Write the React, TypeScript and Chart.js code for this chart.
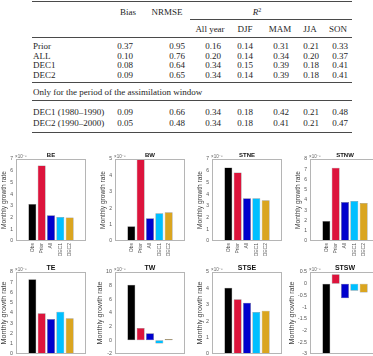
import React, { useEffect, useRef } from 'react';
import { Chart, registerables } from 'chart.js';

Chart.register(...registerables);

// ---- Table data ----
const runNames = ['Prior', 'ALL', 'DEC1', 'DEC2'];
const biasValues = [0.37, 0.1, 0.08, 0.09];
const nrmseValues = [0.95, 0.76, 0.64, 0.65];
const r2AllYear = [0.16, 0.2, 0.34, 0.34];
const r2DJF = [0.14, 0.14, 0.15, 0.14];
const r2MAM = [0.31, 0.34, 0.39, 0.39];
const r2JJA = [0.21, 0.2, 0.18, 0.18];
const r2SON = [0.33, 0.37, 0.41, 0.41];

const windowRunNames = ['DEC1 (1980–1990)', 'DEC2 (1990–2000)'];
const windowBias = [0.09, 0.05];
const windowNrmse = [0.66, 0.48];
const windowAllYear = [0.34, 0.34];
const windowDJF = [0.18, 0.18];
const windowMAM = [0.42, 0.41];
const windowJJA = [0.21, 0.21];
const windowSON = [0.48, 0.47];

const seasonHeaders = ['All year', 'DJF', 'MAM', 'JJA', 'SON'];

// ---- Bar chart data (monthly growth rate, x10^-8) ----
const categories = ['Obs', 'Prior', 'All', 'DEC1', 'DEC2'];
const regionNames = ['BE', 'BW', 'STNE', 'STNW', 'TE', 'TW', 'STSE', 'STSW'];
const beValues = [3.15, 6.45, 2.2, 2.05, 2.0];
const bwValues = [0.9, 5.0, 1.38, 1.69, 1.75];
const stneValues = [6.27, 5.84, 3.64, 3.64, 3.47];
const stnwValues = [1.95, 7.15, 3.8, 3.9, 3.7];
const teValues = [7.3, 3.97, 3.41, 4.12, 3.48];
const twValues = [8.15, 1.8, 1.05, -0.45, 0.2];
const stseValues = [4.04, 3.34, 3.13, 2.56, 2.64];
const stswValues = [-3.0, 0.4, -0.62, -0.3, -0.38];
const axisMin = [0, 0, 0, 0, 0, -2, 0, -3];
const axisMax = [7, 5, 7, 8, 8, 10, 5, 0.5];
const axisStep = [1, 1, 1, 1, 1, 2, 1, 0.5];

const allValues = [beValues, bwValues, stneValues, stnwValues, teValues, twValues, stseValues, stswValues];

const barColors = ['#000000', '#DC143C', '#0000CD', '#00BFFF', '#DAA520'];

// ---- Layout ----
const frameLefts = [16, 115, 212, 310];
const rowTops = [159, 272];
const frameW = 70;
const frameH = 82;
const padL = 26; // room left of the axes box (y ticks + label)
const padT = 18;
const padR = 4;
const padB = 26;
const yAxisW = 20;
const xAxisH = 22;

const sansFamily = '"Liberation Sans", Arial, sans-serif';

type PanelProps = {
  title: string;
  values: number[];
  min: number;
  max: number;
  step: number;
  left: number;
  top: number;
  big: boolean;
};

function GrowthPanel({ title, values, min, max, step, left, top, big }: PanelProps) {
  const ref = useRef<HTMLCanvasElement>(null);
  const W = padL + frameW + padR;
  const H = padT + frameH + padB;

  useEffect(() => {
    const tickSize = big ? 5.3 : 5;
    const titleSize = big ? 7 : 6;
    const ylabelSize = big ? 7.2 : 6.6;
    const tickColor = '#555';

    const decorations = {
      id: 'panelDecorations',
      afterDraw(chart: any) {
        const { ctx, chartArea } = chart;
        const { left: l, top: t, right: r, bottom: b } = chartArea;
        ctx.save();
        // axes box
        ctx.strokeStyle = '#b5b5b5';
        ctx.lineWidth = 1;
        ctx.strokeRect(l + 0.5, t + 0.5, r - l - 1, b - t - 1);

        // title
        ctx.fillStyle = '#111';
        ctx.font = `bold ${titleSize}px ${sansFamily}`;
        ctx.textAlign = 'center';
        ctx.textBaseline = 'alphabetic';
        ctx.fillText(title, (l + r) / 2, t - 2);

        // exponent label
        ctx.fillStyle = '#666';
        ctx.font = `4.5px ${sansFamily}`;
        ctx.textAlign = 'left';
        ctx.fillText('×10⁻⁸', l - 1, t - 1);

        // y axis label
        ctx.font = `${tickSize}px ${sansFamily}`;
        let maxW = 0;
        for (const tk of chart.scales.y.ticks) {
          maxW = Math.max(maxW, ctx.measureText(String(tk.label)).width);
        }
        const yx = l - 3 - maxW - 2 - ylabelSize * 0.55;
        ctx.translate(yx, (t + b) / 2);
        ctx.rotate(-Math.PI / 2);
        ctx.font = `${ylabelSize}px ${sansFamily}`;
        ctx.fillStyle = '#444';
        ctx.textAlign = 'center';
        ctx.textBaseline = 'middle';
        ctx.fillText('Monthly growth rate', 0, 0);
        ctx.restore();
      },
    };

    const chart = new Chart(ref.current as HTMLCanvasElement, {
      type: 'bar',
      data: {
        datasets: [
          {
            data: values.map((v, i) => ({ x: i + 1, y: v })),
            backgroundColor: barColors,
            borderColor: 'rgba(0,0,0,0.55)',
            borderWidth: 0.5,
            borderSkipped: false,
            categoryPercentage: 1,
            barPercentage: 0.85,
          } as any,
        ],
      },
      options: {
        animation: false,
        responsive: false,
        maintainAspectRatio: false,
        devicePixelRatio: 1,
        layout: {
          padding: { left: padL - yAxisW, top: padT, right: padR, bottom: padB - xAxisH },
        },
        plugins: { legend: { display: false }, tooltip: { enabled: false }, title: { display: false } },
        scales: {
          x: {
            type: 'linear',
            min: 0,
            max: 6,
            grid: { display: false, drawTicks: false },
            border: { display: false },
            afterBuildTicks: (s: any) => {
              s.ticks = categories.map((_, i) => ({ value: i + 1 }));
            },
            afterFit: (s: any) => {
              s.height = xAxisH;
            },
            ticks: {
              callback: (v: any) => categories[Math.round(Number(v)) - 1] ?? '',
              minRotation: 90,
              maxRotation: 90,
              autoSkip: false,
              padding: 2,
              color: tickColor,
              font: { size: tickSize, family: sansFamily },
            },
          },
          y: {
            type: 'linear',
            min,
            max,
            grid: { display: false, drawTicks: false },
            border: { display: false },
            afterFit: (s: any) => {
              s.width = yAxisW;
            },
            ticks: {
              stepSize: step,
              padding: 3,
              autoSkip: false,
              color: tickColor,
              font: { size: tickSize, family: sansFamily },
              callback: (v: any) => String(Math.round(Number(v) * 100) / 100),
            },
          },
        },
      } as any,
      plugins: [decorations],
    });
    return () => chart.destroy();
  }, [title, values, min, max, step, big]);

  return (
    <canvas
      ref={ref}
      width={W}
      height={H}
      style={{ position: 'absolute', left: left - padL, top: top - padT, width: W, height: H }}
    />
  );
}

// ---- Table ----
const serif = '"Liberation Serif", "Times New Roman", serif';
const colCenters = [125, 177, 213, 245, 281, 311, 340];
const headerCenters = [210, 245, 280, 310, 338];

function Cell({ x, y, align = 'center', children, style }: any) {
  const tx = align === 'center' ? '-50%' : align === 'right' ? '-100%' : '0';
  return (
    <div
      style={{
        position: 'absolute',
        left: x,
        top: y,
        transform: `translate(${tx}, -50%)`,
        whiteSpace: 'nowrap',
        lineHeight: '10px',
        ...style,
      }}
    >
      {children}
    </div>
  );
}

function Rule({ y, x1, x2 }: { y: number; x1: number; x2: number }) {
  return <div style={{ position: 'absolute', left: x1, top: y, width: x2 - x1, height: 1, background: '#4a4a4a' }} />;
}

function ScoreTable() {
  const mainRowY = [46, 55.5, 65, 74.5];
  const windowRowY = [111.5, 122.5];
  const rowVals = (i: number) => [biasValues[i], nrmseValues[i], r2AllYear[i], r2DJF[i], r2MAM[i], r2JJA[i], r2SON[i]];
  const windowVals = (i: number) => [
    windowBias[i],
    windowNrmse[i],
    windowAllYear[i],
    windowDJF[i],
    windowMAM[i],
    windowJJA[i],
    windowSON[i],
  ];
  return (
    <div style={{ position: 'absolute', left: 0, top: 0, width: 373, height: 140, fontFamily: serif, fontSize: 9, color: '#1e1e1e' }}>
      <Rule y={1} x1={32} x2={352} />
      <Cell x={128} y={12}>Bias</Cell>
      <Cell x={167} y={12}>NRMSE</Cell>
      <Cell x={257} y={11.5}>
        <i>R</i>
        <sup style={{ fontSize: 6, verticalAlign: 'top', lineHeight: '6px' }}>2</sup>
      </Cell>
      <Rule y={19} x1={190} x2={352} />
      {seasonHeaders.map((h, k) => (
        <Cell key={h} x={headerCenters[k]} y={29}>
          {h}
        </Cell>
      ))}
      <Rule y={37} x1={32} x2={352} />
      {runNames.map((name, i) => (
        <React.Fragment key={name}>
          <Cell x={33} y={mainRowY[i]} align="left">
            {name}
          </Cell>
          {rowVals(i).map((v, k) => (
            <Cell key={k} x={colCenters[k]} y={mainRowY[i]}>
              {v.toFixed(2)}
            </Cell>
          ))}
        </React.Fragment>
      ))}
      <Rule y={82} x1={32} x2={352} />
      <Cell x={33} y={91.5} align="left">
        Only for the period of the assimilation window
      </Cell>
      <Rule y={100} x1={32} x2={352} />
      {windowRunNames.map((name, i) => (
        <React.Fragment key={name}>
          <Cell x={33} y={windowRowY[i]} align="left">
            {name}
          </Cell>
          {windowVals(i).map((v, k) => (
            <Cell key={k} x={colCenters[k]} y={windowRowY[i]}>
              {v.toFixed(2)}
            </Cell>
          ))}
        </React.Fragment>
      ))}
      <Rule y={132} x1={32} x2={352} />
    </div>
  );
}

export default function App() {
  return (
    <div
      style={{
        position: 'fixed',
        left: 0,
        top: 0,
        width: 373,
        height: 356,
        overflow: 'hidden',
        background: '#fff',
      }}
    >
      <ScoreTable />
      {regionNames.map((name, i) => (
        <GrowthPanel
          key={name}
          title={name}
          values={allValues[i]}
          min={axisMin[i]}
          max={axisMax[i]}
          step={axisStep[i]}
          left={frameLefts[i % 4]}
          top={rowTops[Math.floor(i / 4)]}
          big={i >= 4}
        />
      ))}
    </div>
  );
}
